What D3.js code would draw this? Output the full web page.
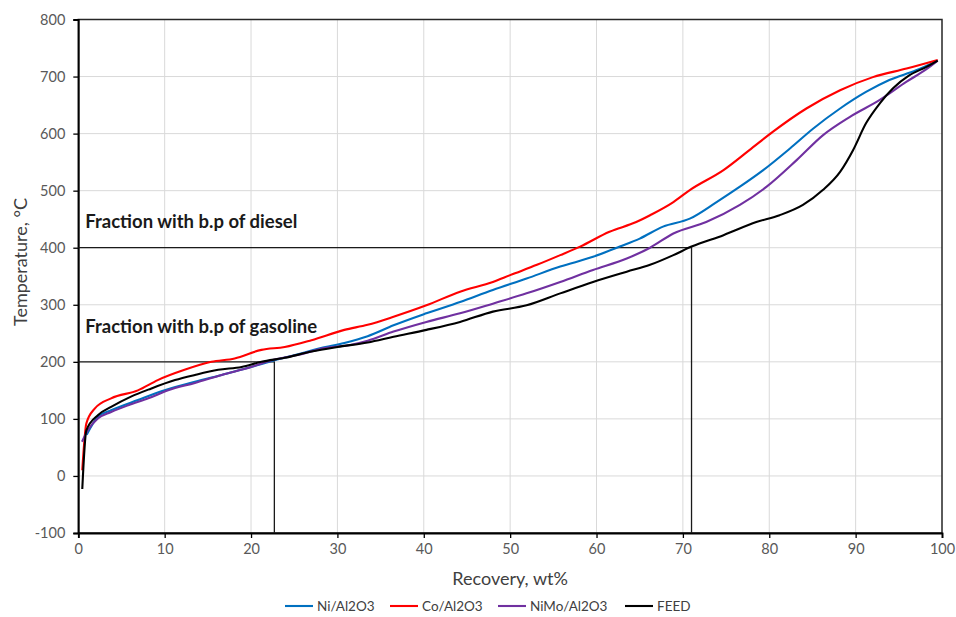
<!DOCTYPE html>
<html lang="en">

<head>
    <script src="https://d3js.org/d3.v7.min.js"></script>
    <style>
        body { margin: 0; background: #fff; }
        text { font-family: Lato, "Open Sans", sans-serif; }
    </style>
</head>

<body>
    <div id="graph"></div>
    <script>
        // recovery (wt%) and temperature (°C)
        var niRec = [0.97, 2.3, 3.8, 6.9, 10, 13.5, 16.6, 19.6, 22.3, 25.1, 28.1, 30.8, 33.5, 36.5, 40.3, 44.2, 48.0, 51.9, 55.8, 59.6, 62.7, 65.0, 67.7, 70.8, 73.9, 76.6, 79.3, 82.4, 85.1, 88.2, 91.2, 93.9, 97.0, 99.5];
        var niTemp = [72, 104, 115, 133, 150, 165, 177, 189, 201, 212, 224, 233, 245, 264, 285, 305, 326, 346, 367, 384, 402, 416, 437, 451, 480, 507, 536, 574, 609, 644, 673, 694, 711, 728];

        var coRec = [0.46, 0.93, 1.9, 3.8, 6.9, 9.2, 12.3, 15.4, 18.1, 21.2, 23.9, 27.0, 30.8, 33.5, 36.5, 40.3, 44.2, 48.0, 50.0, 53.1, 55.8, 58.1, 61.5, 64.6, 66.2, 68.9, 70.8, 74.7, 77.7, 80.4, 84.3, 88.2, 92.0, 95.9, 99.5];
        var coTemp = [10, 92, 118, 136, 150, 168, 186, 200, 206, 221, 226, 238, 256, 265, 279, 299, 323, 340, 352, 370, 387, 402, 428, 445, 457, 480, 501, 536, 571, 603, 644, 676, 699, 714, 729];

        var nimoRec = [0.43, 1.1, 2.3, 3.8, 5.8, 8.1, 10.4, 13.5, 16.6, 20.0, 22.7, 25.4, 28.5, 31.6, 33.5, 36.5, 40.3, 44.2, 48.0, 51.9, 55.8, 59.6, 63.5, 66.2, 68.9, 72.7, 76.6, 79.7, 83.2, 86.2, 89.3, 92.8, 95.9, 98.2, 99.5];
        var nimoTemp = [60, 80, 101, 112, 124, 136, 150, 163, 177, 191, 204, 212, 224, 230, 237, 253, 270, 285, 302, 320, 340, 361, 381, 400, 425, 445, 475, 507, 554, 597, 629, 659, 691, 713, 728];

        var feedRec = [0.46, 0.93, 2.3, 3.8, 6.1, 8.4, 11.2, 13.5, 16.2, 18.9, 21.2, 23.9, 27.0, 30.0, 33.5, 36.5, 40.3, 44.2, 48.0, 51.9, 55.8, 59.6, 63.5, 66.2, 68.9, 71.0, 74.7, 78.5, 81.2, 83.9, 86.2, 88.2, 89.7, 91.2, 92.8, 94.3, 96.2, 98.2, 99.5];
        var feedTemp = [-23, 80, 107, 121, 139, 153, 168, 177, 186, 191, 200, 207, 218, 226, 234, 244, 256, 270, 288, 299, 320, 340, 358, 370, 387, 402, 422, 445, 457, 475, 501, 533, 571, 618, 653, 679, 702, 717, 728];

        var seriesNames = ["Ni/Al2O3", "Co/Al2O3", "NiMo/Al2O3", "FEED"];
        var seriesColors = ["#0070c0", "#ff0000", "#7030a0", "#000000"];

        // fraction cut lines: boiling point and recovery where FEED crosses it
        var cutTemp = [200, 400];
        var cutRec = [22.7, 71.0];
        var noteText = ["Fraction with b.p of gasoline", "Fraction with b.p of diesel"];
        var noteTemp = [251, 434];

        var xTicks = d3.range(0, 101, 10);
        var yTicks = d3.range(-100, 801, 100);

        var margin = { top: 19.5, right: 14, bottom: 84, left: 78.3 },
            width = 956 - margin.left - margin.right,
            height = 617 - margin.top - margin.bottom;

        var svg = d3.select("#graph").append("svg")
            .attr("width", 956)
            .attr("height", 617);

        var g = svg.append("g")
            .attr("transform", "translate(" + margin.left + "," + margin.top + ")");

        var x = d3.scaleLinear().domain([0, 100]).range([0, width]);
        var y = d3.scaleLinear().domain([-100, 800]).range([height, 0]);

        // gridlines
        g.append("g").selectAll("line")
            .data(yTicks.slice(1, -1)).enter().append("line")
            .attr("x1", 0).attr("x2", width)
            .attr("y1", d => y(d)).attr("y2", d => y(d))
            .attr("stroke", "#d9d9d9").attr("stroke-width", 1);
        g.append("g").selectAll("line")
            .data(xTicks.slice(1, -1)).enter().append("line")
            .attr("y1", 0).attr("y2", height)
            .attr("x1", d => x(d)).attr("x2", d => x(d))
            .attr("stroke", "#d9d9d9").attr("stroke-width", 1);

        // plot border (top / right)
        g.append("rect")
            .attr("width", width).attr("height", height)
            .attr("fill", "none").attr("stroke", "#262626").attr("stroke-width", 1.5);

        // axes (plain hyphen for negatives, like the original)
        var fmt = d => String(d);
        var xAxis = g.append("g")
            .attr("transform", "translate(0," + height + ")")
            .call(d3.axisBottom(x).tickValues(xTicks).tickFormat(fmt).tickSize(5).tickPadding(6));
        var yAxis = g.append("g")
            .call(d3.axisLeft(y).tickValues(yTicks).tickFormat(fmt).tickSize(5).tickPadding(8));
        [xAxis, yAxis].forEach(function(a) {
            a.select(".domain").attr("stroke", "#000").attr("stroke-width", 1.8);
            a.selectAll(".tick line").attr("stroke", "#000").attr("stroke-width", 1.3);
            a.selectAll("text").attr("fill", "#595959").style("font-size", "14.5px")
                .style("font-family", "Lato, sans-serif");
        });

        // cut lines
        cutTemp.forEach(function(t, i) {
            var xs = x(cutRec[i]), ys = y(t);
            g.append("path")
                .attr("d", "M0," + ys + "H" + xs + "V" + height)
                .attr("fill", "none")
                .attr("stroke", "#1a1a1a").attr("stroke-width", 1.3);
        });

        // curves
        var recs = [niRec, coRec, nimoRec, feedRec];
        var temps = [niTemp, coTemp, nimoTemp, feedTemp];
        var line = d3.line()
            .x(d => x(d[0]))
            .y(d => y(d[1]))
            .curve(d3.curveMonotoneX);

        seriesNames.forEach(function(name, i) {
            var pts = recs[i].map((r, j) => [r, temps[i][j]]);
            g.append("path")
                .datum(pts)
                .attr("fill", "none")
                .attr("stroke", seriesColors[i])
                .attr("stroke-width", 2.1)
                .attr("stroke-linejoin", "round")
                .attr("d", line);
        });

        // notes
        g.append("g").selectAll("text")
            .data(noteText).enter().append("text")
            .attr("x", 7)
            .attr("y", (d, i) => y(noteTemp[i]))
            .style("font-size", "18.5px")
            .style("font-weight", "700")
            .attr("fill", "#1a1a1a")
            .text(d => d);

        // axis titles
        svg.append("text")
            .attr("x", margin.left + width / 2)
            .attr("y", 585)
            .attr("text-anchor", "middle")
            .style("font-size", "18px")
            .attr("fill", "#404040")
            .text("Recovery, wt%");

        svg.append("text")
            .attr("transform", "translate(27," + 262 + ") rotate(-90)")
            .attr("text-anchor", "middle")
            .style("font-size", "18px")
            .attr("fill", "#404040")
            .text("Temperature, °C");

        // legend
        var legX = [285, 390, 498, 625];
        var leg = svg.append("g").selectAll("g")
            .data(seriesNames).enter().append("g")
            .attr("transform", (d, i) => "translate(" + legX[i] + ",606)");
        leg.append("line")
            .attr("x1", 0).attr("x2", 28)
            .attr("stroke", (d, i) => seriesColors[i])
            .attr("stroke-width", 2.1);
        leg.append("text")
            .attr("x", 32).attr("y", 4.5)
            .style("font-size", "13.5px")
            .attr("fill", "#404040")
            .text(d => d);
    </script>
</body>

</html>
